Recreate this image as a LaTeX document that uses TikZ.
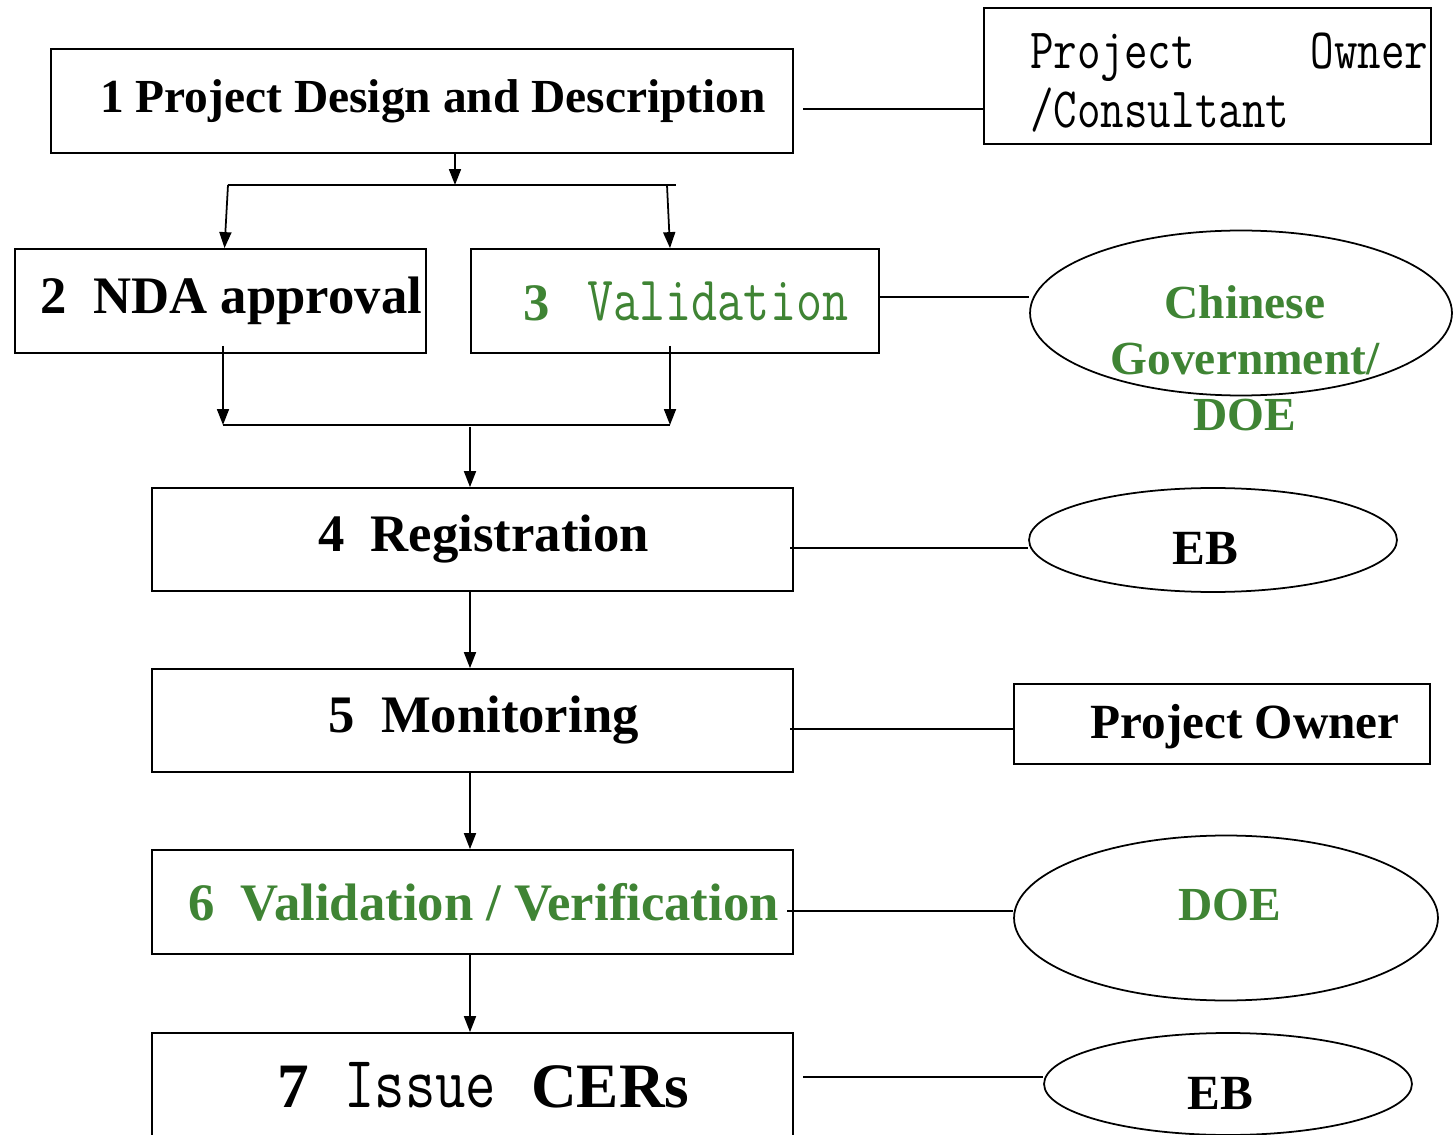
\documentclass[tikz,border=0pt]{standalone}
\usepackage{fontspec}
\setmainfont{Liberation Serif}
\setmonofont{Latin Modern Mono}[FakeStretch=0.8]
\usetikzlibrary{arrows.meta,shapes.geometric}
\definecolor{valgreen}{RGB}{63,132,52}
\tikzset{
  stage/.style={draw, line width=1pt, inner sep=0pt, minimum height=2.08cm,
    execute at begin node=\hspace*{0.44cm}},
  party/.style={draw, line width=1pt, inner sep=0pt},
  oval/.style={draw, ellipse, line width=1pt, inner sep=0pt},
  arr/.style={line width=1pt, -{Triangle[length=0.32cm,width=0.24cm]}},
  link/.style={line width=1pt},
}

\begin{document}
\begin{tikzpicture}[x=0.02cm, y=-0.02cm]
    \useasboundingbox (0,0) rectangle (1455,1135);
    % steps of the project cycle
    \node[stage, minimum width=14.84cm, font=\fontsize{27}{32}\selectfont\bfseries] (b1) at (422,101) {1 Project Design and Description};
    \node[stage, minimum width=8.22cm, font=\fontsize{30}{36}\selectfont\bfseries] (b2) at (220.5,301) {2~~NDA approval};
    \node[stage, minimum width=8.16cm, font=\fontsize{30}{36}\selectfont\bfseries, text=valgreen] (b3) at (675,301) {3\hspace{0.75cm}{\normalfont\ttfamily\fontsize{36}{42}\selectfont Validation}};
    \node[stage, minimum width=12.82cm, minimum height=2.06cm, font=\fontsize{30}{36}\selectfont\bfseries] (b4) at (472.5,539.5) {4~~Registration};
    \node[stage, minimum width=12.82cm, minimum height=2.06cm, font=\fontsize{30}{36}\selectfont\bfseries] (b5) at (472.5,720.5) {5~~Monitoring};
    \node[stage, minimum width=12.82cm, font=\fontsize{30}{36}\selectfont\bfseries, text=valgreen] (b6) at (472.5,902) {6~~Validation / Verification};
    \node[stage, minimum width=12.82cm, font=\fontsize{36}{42}\selectfont\bfseries] (b7) at (472.5,1085) {7\hspace{0.7cm}{\normalfont\ttfamily\fontsize{42}{48}\selectfont Issue}\hspace{0.7cm}CERs};

    % who is in charge
    \node[party, minimum width=8.94cm, minimum height=2.72cm] (po1) at (1207.5,76) {};
    \node[anchor=north west, align=left, text width=7.96cm, inner sep=0pt, font=\ttfamily\fontsize{32.5}{33.4}\selectfont] (po1t) at (1030,33) {Project\hfill Owner\\/Consultant};
    \node[oval, minimum width=8.44cm, minimum height=3.3cm] (gov) at (1241,313) {};
    \node[align=center, text=valgreen, font=\fontsize{27}{32}\selectfont\bfseries] (govt) at (1245,358) {Chinese\\Government/\\DOE};
    \node[oval, minimum width=7.36cm, minimum height=2.08cm] (eb1) at (1213,540) {};
    \node[font=\fontsize{28}{34}\selectfont\bfseries] (eb1t) at (1205,548) {EB};
    \node[party, minimum width=8.32cm, minimum height=1.6cm] (po2) at (1222,724) {};
    \node[font=\fontsize{28}{34}\selectfont\bfseries] (po2t) at (1245,727) {Project Owner};
    \node[oval, minimum width=8.48cm, minimum height=3.3cm] (doe) at (1226,918) {};
    \node[text=valgreen, font=\fontsize{27}{32}\selectfont\bfseries] (doet) at (1230,905) {DOE};
    \node[oval, minimum width=7.36cm, minimum height=2.04cm] (eb2) at (1228,1084) {};
    \node[font=\fontsize{28}{34}\selectfont\bfseries] (eb2t) at (1220,1093) {EB};

    % split and join
    \coordinate (j1) at (455,185);
    \coordinate (jl) at (228,185);
    \coordinate (jr) at (676,185);
    \coordinate (ml) at (223,425);
    \coordinate (mr) at (670,425);
    \coordinate (mc) at (470,427);
    \draw[arr] (b1.south -| j1) -- (j1);
    \draw[link] (jl) -- (jr);
    \draw[arr] (jl) -- ([xshift=0.08cm]b2.north);
    \draw[arr] ([xshift=-0.18cm]jr) -- ([xshift=-0.1cm]b3.north);
    \draw[arr] (b2.south -| ml) ++(0,-8) -- (ml);
    \draw[arr] (b3.south -| mr) ++(0,-8) -- (mr);
    \draw[link] (ml) -- (mr);
    \draw[arr] (mc) -- (mc |- b4.north);
    \draw[arr] (b4.south -| mc) -- (b5.north -| mc);
    \draw[arr] (b5.south -| mc) -- (b6.north -| mc);
    \draw[arr] (b6.south -| mc) -- (b7.north -| mc);

    % side links
    \coordinate (c1) at (803,109);
    \coordinate (c3) at (879,297);
    \coordinate (c4) at (790,548);
    \coordinate (c5) at (790,729);
    \coordinate (c6) at (787,911);
    \coordinate (c7) at (803,1077);
    \draw[link] (c1) -- (c1 -| po1.west);
    \draw[link] (c3) -- (c3 -| gov.west);
    \draw[link] (c4) -- (c4 -| eb1.west);
    \draw[link] (c5) -- (c5 -| po2.west);
    \draw[link] (c6) -- (c6 -| doe.west);
    \draw[link] (c7) -- (c7 -| eb2.west);
\end{tikzpicture}
\end{document}
